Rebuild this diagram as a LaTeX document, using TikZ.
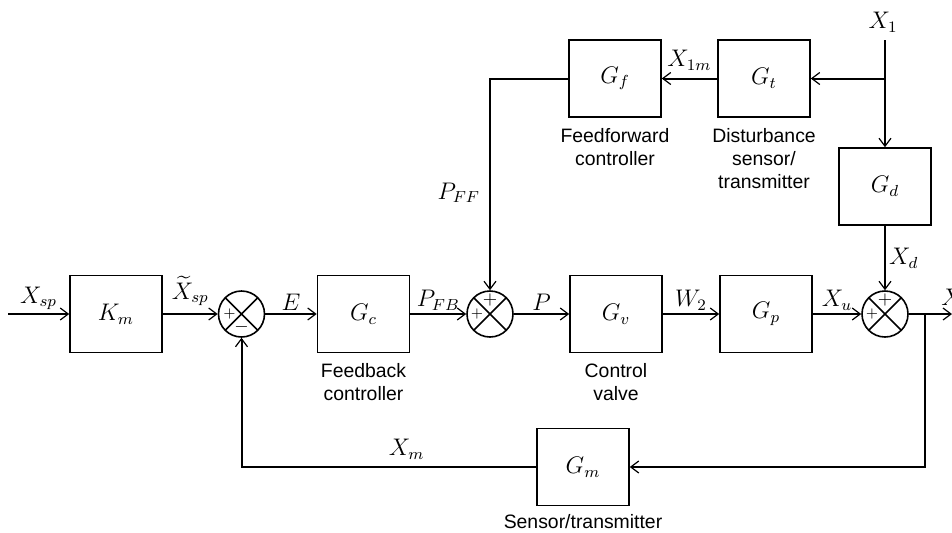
\documentclass[tikz,border=0pt]{standalone}
\usepackage{amsmath}
\usepackage{fontspec}
\setsansfont{Liberation Sans}
\usetikzlibrary{arrows.meta,positioning}
\tikzset{
  cs/block/.style={draw, line width=0.8pt, minimum width=46pt, minimum height=38.5pt, inner sep=0pt},
  cs/sum/.style={draw, circle, line width=0.8pt, minimum size=23pt, inner sep=0pt,
    path picture={\draw[line width=0.8pt]
      (path picture bounding box.north west) -- (path picture bounding box.south east)
      (path picture bounding box.south west) -- (path picture bounding box.north east);}},
  cs/sign/.style={font=\fontsize{9}{9}\selectfont, inner sep=0pt},
  cs/smallsign/.style={font=\fontsize{7.5}{7.5}\selectfont, inner sep=0pt},
  cs/caption/.style={font=\sffamily\fontsize{9.7}{11.5}\selectfont, align=center, inner sep=1pt},
  cs/signal/.style={line width=1pt, -{Straight Barb[length=4pt, width=6pt, line width=0.6pt]}},
  cs/lbl/.style={inner sep=1.5pt}
}

\begin{document}
\begin{tikzpicture}[x=0.5pt, y=-0.5pt, font=\fontsize{12}{14}\selectfont]
  \useasboundingbox (0,0) rectangle (952,532);
  \clip (0,0) rectangle (952,532);

  % Main forward path
  \coordinate (xin) at (8,314);
  \node[cs/block] (km) at (116,314) {$K_m$};
  \node[cs/sum] (s1) at (241.5,314) {};
  \node[cs/block] (gc) at (363.5,314) {$G_c$};
  \node[cs/sum] (s2) at (490,314) {};
  \node[cs/block] (gv) at (616,314) {$G_v$};
  \node[cs/block] (gp) at (766,314) {$G_p$};
  \node[cs/sum] (s3) at (885,314) {};
  \coordinate (xout) at (952,314);
  \coordinate (br) at (925,314);

  % Signs in the junctions
  \node[cs/smallsign] (s1a) at ([xshift=-6pt]s1.center) {$+$};
  \node[cs/sign] (s1b) at ([yshift=-6.5pt]s1.center) {$-$};
  \node[cs/smallsign] (s2a) at ([xshift=-6.5pt]s2.center) {$+$};
  \node[cs/sign] (s2b) at ([yshift=7pt]s2.center) {$+$};
  \node[cs/smallsign] (s3a) at ([xshift=-6.5pt]s3.center) {$+$};
  \node[cs/sign] (s3b) at ([yshift=7pt]s3.center) {$+$};

  % Feedforward and disturbance path
  \node[cs/block] (gf) at (615,78.5) {$G_f$};
  \node[cs/block] (gt) at (764,78.5) {$G_t$};
  \node[cs/block] (gd) at (885,186.5) {$G_d$};
  \coordinate (x1top) at (885,40);
  \coordinate (x1br) at (885,78.5);
  \node[cs/lbl] (x1lab) at (883,22) {$X_1$};

  % Measurement
  \node[cs/block] (gm) at (583,467) {$G_m$};

  % Captions
  \node[cs/caption, below=4pt of gc] (gccap) {Feedback\\controller};
  \node[cs/caption, below=4pt of gv] (gvcap) {Control\\valve};
  \node[cs/caption, below=4pt of gf] (gfcap) {Feedforward\\controller};
  \node[cs/caption, below=4pt of gt] (gtcap) {Disturbance\\sensor/\\transmitter};
  \node[cs/caption, below=3pt of gm] (gmcap) {Sensor/transmitter};

  % Signals
  \draw[cs/signal] (xin) -- node[cs/lbl, above] {$X_{sp}$} (km);
  \draw[cs/signal] (km) -- node[cs/lbl, above=2pt] {$\widetilde{X}_{sp}$} (s1);
  \draw[cs/signal] (s1) -- node[cs/lbl, above] {$E$} (gc);
  \draw[cs/signal] (gc) -- node[cs/lbl, above] {$P_{FB}$} (s2);
  \draw[cs/signal] (s2) -- node[cs/lbl, above] {$P$} (gv);
  \draw[cs/signal] (gv) -- node[cs/lbl, above] {$W_2$} (gp);
  \draw[cs/signal] (gp) -- node[cs/lbl, above] {$X_u$} (s3);
  \draw[cs/signal] (s3) -- (xout);
  \node[cs/lbl] (xoutlab) at (952,297) {$X$};

  \draw[cs/signal] (br) |- (gm.east);
  \draw[cs/signal] (gm.west) -| node[cs/lbl, pos=0.22, above=2pt] {$X_m$} (s1.south);

  \draw[cs/signal] (x1top) -- (gd);
  \draw[cs/signal] (x1br) -- (gt);
  \draw[cs/signal] (gt) -- node[cs/lbl, above=2pt] {$X_{1m}$} (gf);
  \draw[cs/signal] (gf.west) -| node[cs/lbl, pos=0.77, left=3pt] {$P_{FF}$} (s2.north);
  \draw[cs/signal] (gd) -- node[cs/lbl, right] {$X_d$} (s3);
\end{tikzpicture}
\end{document}
